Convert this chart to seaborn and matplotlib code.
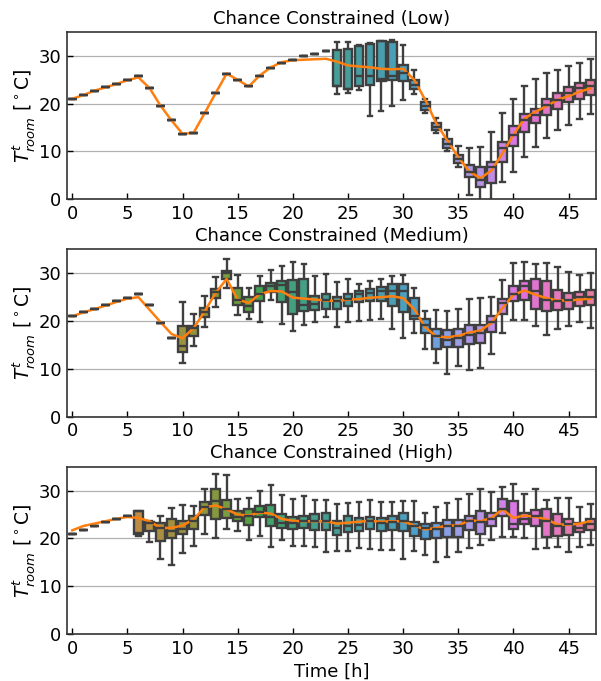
import numpy as np
import pandas as pd
import matplotlib
matplotlib.use("Agg")
import matplotlib.pyplot as plt
import seaborn as sns

plt.rcParams["font.family"] = ["DejaVu Sans"]

hours = list(range(48))
tick_hours = list(range(0, 48, 5))
titles = ["Chance Constrained (Low)", "Chance Constrained (Medium)", "Chance Constrained (High)"]

# ---------------- Low ----------------
low_flat = [21.0, 21.8, 22.7, 23.4, 24.1, 24.9, 25.7, 23.3, 19.6, 16.5, 13.7, 13.9,
            18.0, 22.2, 26.3, 25.0, 23.6, 25.8, 27.4, 28.5, 29.2, 29.9, 30.5, 31.0]
low_lo = low_flat + [22.1, 22.3, 22.9, 17.4, 18.5, 19.5, 20.7, 22.1, 18.1, 13.9, 10.0, 6.7,
                     0.9, -0.5, -1.0, 3.7, 5.6, 8.9, 11.0, 12.8, 14.4, 15.5, 16.8, 17.9]
low_q1 = low_flat + [23.6, 23.0, 23.7, 23.9, 24.7, 24.9, 24.8, 23.0, 18.7, 14.5, 10.7, 7.5,
                     4.7, 2.6, 3.3, 7.7, 11.2, 14.0, 16.0, 17.6, 18.8, 20.4, 21.0, 21.8]
low_med = low_flat + [23.6, 23.0, 25.7, 25.7, 25.2, 25.7, 26.4, 24.0, 19.6, 15.2, 11.6, 8.4,
                      5.8, 4.0, 6.8, 10.7, 13.5, 16.6, 17.6, 19.7, 20.8, 22.3, 23.2, 23.7]
low_q3 = low_flat + [31.3, 31.5, 32.1, 32.4, 33.1, 32.9, 28.0, 25.0, 20.3, 15.9, 12.6, 9.3,
                     7.2, 6.8, 7.7, 11.9, 15.3, 17.9, 18.8, 21.0, 22.3, 23.4, 24.3, 25.0]
low_hi = low_flat + [32.9, 32.9, 32.3, 32.7, 33.2, 33.3, 32.3, 27.0, 20.9, 16.9, 14.5, 11.2,
                     10.8, 11.0, 14.0, 18.0, 21.0, 23.6, 25.1, 26.4, 27.1, 27.9, 28.6, 29.3]
low_line = [21.0, 21.8, 22.7, 23.4, 24.1, 24.9, 25.5, 23.3, 19.6, 16.5, 13.7, 13.9,
            18.0, 22.2, 26.3, 25.0, 23.6, 25.9, 27.6, 28.7, 29.1, 29.2, 29.3, 29.4,
            28.8, 28.0, 27.8, 27.6, 27.3, 27.2, 27.3, 25.0, 20.8, 15.9, 12.3, 8.8,
            5.8, 4.4, 6.0, 9.6, 13.5, 16.9, 18.3, 19.5, 20.8, 21.6, 22.5, 23.2]

# ---------------- Medium ----------------
med_flat = [21.0, 21.9, 22.6, 23.3, 24.1, 24.9, 25.6, 23.3, 19.6, 16.4]
med_lo = med_flat + [11.2, 14.7, 18.7, 22.9, 26.9, 21.3, 20.4, 19.9, 24.5, 19.4, 18.0, 19.1,
                     19.9, 20.8, 18.7, 19.7, 20.1, 20.3, 20.4, 18.3, 16.4, 17.6, 14.2, 11.2,
                     8.9, 10.5, 9.8, 10.1, 13.1, 17.6, 20.3, 20.3, 19.0, 17.0, 18.3, 18.9,
                     19.7, 18.5]
med_q1 = med_flat + [13.6, 16.9, 20.8, 24.8, 28.9, 23.4, 22.0, 24.2, 26.0, 24.0, 21.5, 22.2,
                     22.4, 22.6, 22.5, 23.2, 23.9, 24.1, 24.1, 23.1, 21.8, 20.5, 17.5, 14.2,
                     14.5, 14.5, 15.2, 15.5, 17.8, 21.5, 24.1, 24.5, 22.5, 22.2, 22.4, 22.6,
                     23.1, 23.3]
med_med = med_flat + [14.8, 18.6, 22.0, 26.0, 30.0, 24.5, 23.1, 25.6, 27.3, 27.6, 26.1, 23.4,
                      23.6, 24.5, 24.1, 24.6, 25.6, 25.9, 26.2, 26.2, 26.2, 21.0, 19.2, 16.8,
                      16.1, 16.4, 17.1, 17.5, 19.9, 23.8, 25.6, 27.4, 26.2, 24.5, 24.1, 24.5,
                      25.0, 25.0]
med_q3 = med_flat + [19.0, 19.0, 22.8, 26.8, 30.5, 26.9, 25.0, 27.3, 28.0, 28.3, 28.5, 28.7,
                     25.2, 25.7, 25.0, 25.7, 26.3, 26.8, 27.1, 27.7, 27.7, 24.8, 20.4, 18.3,
                     18.2, 18.3, 19.2, 19.2, 21.1, 24.7, 27.3, 28.4, 28.7, 28.3, 26.6, 25.9,
                     26.0, 26.6]
med_hi = med_flat + [23.9, 21.5, 25.3, 29.2, 33.0, 29.7, 27.0, 29.4, 30.7, 31.6, 32.3, 32.0,
                     29.4, 29.9, 28.1, 28.7, 27.8, 28.3, 28.8, 29.5, 29.7, 27.0, 22.2, 22.4,
                     22.2, 22.5, 24.7, 24.9, 25.0, 28.5, 32.1, 32.4, 31.9, 32.1, 31.4, 30.3,
                     29.6, 30.0]
med_line = [21.0, 21.8, 22.5, 23.2, 24.0, 24.7, 25.0, 22.4, 19.8, 17.3, 16.4, 18.5,
            22.0, 25.9, 28.8, 24.5, 23.8, 25.6, 26.3, 26.2, 24.9, 24.7, 24.5, 24.3,
            24.2, 24.5, 24.6, 24.9, 25.0, 25.2, 24.8, 22.5, 18.7, 16.8, 16.6, 16.9,
            17.6, 18.0, 19.6, 22.7, 25.5, 26.4, 25.5, 24.8, 24.3, 24.3, 24.5, 24.7]

# ---------------- High ----------------
high_flat = [21.0, 21.7, 22.6, 23.4, 24.1, 24.8]
high_lo = high_flat + [20.5, 19.3, 15.8, 14.4, 17.0, 18.4, 21.0, 20.0, 21.9, 21.6, 19.6, 20.5,
                       18.2, 19.6, 18.4, 18.5, 18.2, 17.1, 17.3, 17.3, 18.0, 17.7, 17.5, 17.5,
                       15.8, 17.3, 16.5, 15.0, 16.1, 17.1, 18.0, 18.7, 19.7, 20.3, 20.3, 20.0,
                       17.8, 17.9, 18.2, 17.2, 18.2, 18.7]
high_q1 = high_flat + [21.0, 21.5, 19.5, 20.0, 21.0, 22.0, 25.0, 24.0, 24.3, 23.6, 22.9, 24.5,
                       22.6, 22.1, 21.9, 22.2, 21.7, 21.7, 20.8, 21.3, 21.5, 21.9, 21.5, 21.7,
                       21.5, 20.6, 19.9, 20.0, 20.4, 20.4, 21.7, 21.0, 22.6, 24.7, 21.9, 23.1,
                       22.6, 20.4, 20.5, 20.8, 21.4, 21.7]
high_med = high_flat + [21.2, 23.3, 22.2, 21.5, 21.9, 23.7, 26.5, 27.8, 26.1, 24.5, 24.8, 25.6,
                        24.5, 23.3, 23.3, 23.7, 23.6, 23.6, 22.2, 22.7, 22.9, 23.7, 23.3, 23.4,
                        23.6, 22.6, 22.2, 21.9, 22.6, 22.6, 23.6, 23.4, 24.0, 26.2, 23.0, 24.1,
                        24.7, 23.6, 22.6, 23.0, 22.2, 23.1]
high_q3 = high_flat + [25.7, 23.5, 23.3, 24.0, 23.6, 24.7, 27.7, 30.4, 28.0, 25.7, 26.2, 26.8,
                       26.9, 25.2, 24.5, 24.8, 25.2, 25.4, 23.6, 24.8, 24.3, 24.5, 24.3, 24.6,
                       25.4, 23.5, 23.1, 23.3, 23.8, 23.8, 24.8, 25.7, 25.4, 28.2, 27.8, 25.4,
                       25.9, 26.2, 25.2, 24.0, 23.3, 24.1]
high_hi = high_flat + [25.7, 23.6, 24.7, 26.3, 26.9, 26.8, 30.3, 33.4, 33.2, 28.3, 28.5, 29.9,
                       31.2, 29.0, 28.3, 28.9, 28.0, 28.0, 27.3, 27.4, 27.6, 28.0, 27.6, 27.6,
                       27.8, 27.8, 25.4, 26.6, 27.4, 28.3, 29.2, 30.4, 29.7, 30.8, 31.3, 29.2,
                       30.3, 28.0, 28.4, 28.5, 26.6, 27.3]
high_line = [21.7, 22.6, 23.1, 23.6, 24.1, 24.5, 24.3, 23.6, 22.2, 22.2, 22.7, 24.0,
             26.5, 26.9, 26.1, 25.0, 24.8, 25.4, 25.2, 24.1, 23.7, 23.6, 23.6, 23.6,
             23.1, 23.3, 23.5, 23.7, 23.5, 23.6, 23.6, 22.7, 21.9, 22.2, 22.7, 22.7,
             23.8, 23.6, 24.3, 26.1, 24.3, 24.8, 24.5, 24.0, 22.9, 22.9, 23.1, 23.6]

panels = [
    (titles[0], low_lo, low_q1, low_med, low_q3, low_hi, low_line),
    (titles[1], med_lo, med_q1, med_med, med_q3, med_hi, med_line),
    (titles[2], high_lo, high_q1, high_med, high_q3, high_hi, high_line),
]

labels = [str(h) for h in hours]
palette = sns.color_palette("husl", len(hours))

fig, axes = plt.subplots(3, 1, figsize=(6.01, 6.81), dpi=100)
fig.subplots_adjust(left=0.111, right=0.992, top=0.953, bottom=0.069, hspace=0.30)

for i, (ax, (title, lo, q1, md, q3, hi, line)) in enumerate(zip(axes, panels)):
    rows = []
    for h, vals in zip(labels, zip(lo, q1, md, q3, hi)):
        for v in vals:
            rows.append((h, v))
    df = pd.DataFrame(rows, columns=["hour", "temp"])

    ax.set_axisbelow(True)
    ax.yaxis.grid(True, color="#b0b0b0", linewidth=0.9)
    sns.boxplot(data=df, x="hour", y="temp", hue="hour", order=labels,
                hue_order=labels, palette=palette, whis=(0, 100), width=0.8,
                linewidth=1.7, legend=False, ax=ax)
    sns.lineplot(x=hours, y=line, color="#ff7f0e", linewidth=1.8, ax=ax)

    ax.set_xlim(-0.5, 47.5)
    ax.set_ylim(0, 35)
    ax.set_yticks([0, 10, 20, 30])
    ax.set_xticks(tick_hours)
    ax.set_xticklabels([str(t) for t in tick_hours])
    ax.tick_params(direction="in", length=4, width=1, labelsize=13,
                   top=False, right=False, pad=4)
    for s in ax.spines.values():
        s.set_color("#333333")
        s.set_linewidth(1.2)
    ax.set_title(title, fontsize=13)
    ax.set_ylabel(r"$T^{t}_{room}$ [$^\circ$C]", fontsize=13.5, labelpad=1)
    ax.set_xlabel("Time [h]" if i == 2 else "", fontsize=13)

fig.savefig("out.png", dpi=100)
